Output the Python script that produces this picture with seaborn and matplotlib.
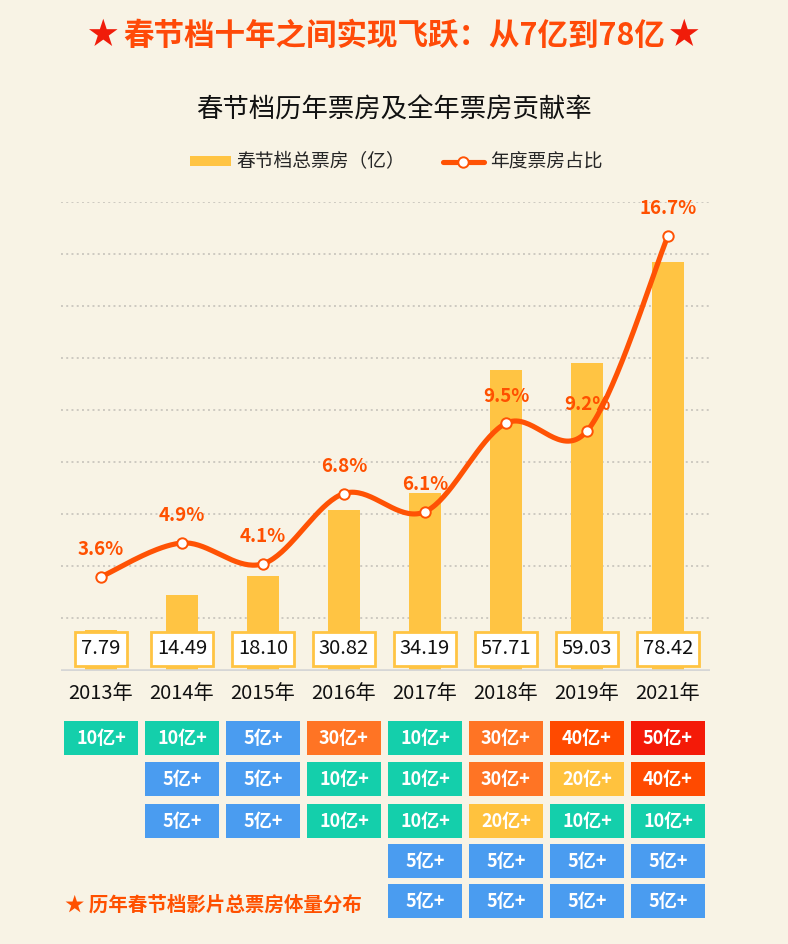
import numpy as np
import matplotlib
matplotlib.use("Agg")
import matplotlib.pyplot as plt
from matplotlib.patches import Patch
from matplotlib.lines import Line2D
import seaborn as sns

# ---- data ----
years = ["2013年", "2014年", "2015年", "2016年", "2017年", "2018年", "2019年", "2021年"]
box_office = [7.79, 14.49, 18.10, 30.82, 34.19, 57.71, 59.03, 78.42]
share_pct = [3.6, 4.9, 4.1, 6.8, 6.1, 9.5, 9.2, 16.7]
box_labels = ["7.79", "14.49", "18.10", "30.82", "34.19", "57.71", "59.03", "78.42"]

# films per year by box-office tier (亿)
tiers_2013 = [10]
tiers_2014 = [10, 5, 5]
tiers_2015 = [5, 5, 5]
tiers_2016 = [30, 10, 10]
tiers_2017 = [10, 10, 10, 5, 5]
tiers_2018 = [30, 30, 20, 5, 5]
tiers_2019 = [40, 20, 10, 5, 5]
tiers_2021 = [50, 40, 10, 5, 5]
tiers = [tiers_2013, tiers_2014, tiers_2015, tiers_2016,
         tiers_2017, tiers_2018, tiers_2019, tiers_2021]

# ---- style ----
BG = "#F8F3E5"
BAR = "#FFC443"
LINE = "#FF5204"
LABEL = "#FF5000"
tier_colors = {5: "#4A9CF0", 10: "#14CFAB", 20: "#FFC23E",
               30: "#FF7424", 40: "#FF4A00", 50: "#F41A08"}

sns.set_style("white")
plt.rcParams["font.family"] = ["Noto Sans CJK SC", "DejaVu Sans"]

W, H = 788, 944
fig = plt.figure(figsize=(W / 100, H / 100), dpi=100, facecolor=BG)

# main chart area (pixel layout)
x0, x1 = 60.7, 710.0
y_top, y_base = 202.0, 670.5
ax = fig.add_axes([x0 / W, 1 - y_base / H, (x1 - x0) / W, (y_base - y_top) / H])
ax.set_facecolor("none")

x = np.arange(len(years))
sns.barplot(x=years, y=box_office, ax=ax, color=BAR, width=0.4,
            saturation=1, linewidth=0, edgecolor="none", zorder=2)
ax.set_xlim(-0.4975, 7.519)
ax.set_ylim(0, 90)
ax.set_yticks(range(0, 91, 10))
ax.yaxis.grid(True, linestyle=(0, (1, 1.7)), color="#CDC9C1", linewidth=1.4,
              dash_capstyle="butt")
ax.set_axisbelow(True)
ax.tick_params(axis="y", left=False, right=False, labelleft=False, length=0)
ax.tick_params(axis="x", length=0, pad=9, labelsize=14.5, labelcolor="#111111")
ax.set_xlabel("")
ax.set_ylabel("")
for sp in ax.spines.values():
    sp.set_visible(False)
ax.axhline(0, color="#D6D6D6", linewidth=2.6, zorder=3)

for i, lab in enumerate(box_labels):
    ax.annotate(lab, xy=(x[i], 0), xytext=(0, 21.5), textcoords="offset pixels",
                ha="center", va="center", fontsize=14.5, color="#111111", zorder=5,
                bbox=dict(boxstyle="square,pad=0.3", fc="white", ec=BAR, lw=2))

# share line on secondary axis, drawn as a Catmull-Rom curve through the points
ax2 = ax.twinx()
ax2.set_ylim(0, 18)
ax2.set_axis_off()

pts_x = x.astype(float)
pts_y = np.asarray(share_pct, dtype=float)
px = np.concatenate([[pts_x[0]], pts_x, [pts_x[-1]]])
py = np.concatenate([[pts_y[0]], pts_y, [pts_y[-1]]])
t = np.linspace(0, 1, 40)
h00 = 2 * t**3 - 3 * t**2 + 1
h10 = t**3 - 2 * t**2 + t
h01 = -2 * t**3 + 3 * t**2
h11 = t**3 - t**2
cx, cy = [], []
for k in range(1, len(px) - 2):
    mx0 = (px[k + 1] - px[k - 1]) / 2
    mx1 = (px[k + 2] - px[k]) / 2
    my0 = (py[k + 1] - py[k - 1]) / 2
    my1 = (py[k + 2] - py[k]) / 2
    cx.append(h00 * px[k] + h10 * mx0 + h01 * px[k + 1] + h11 * mx1)
    cy.append(h00 * py[k] + h10 * my0 + h01 * py[k + 1] + h11 * my1)
cx = np.concatenate(cx)
cy = np.concatenate(cy)
ax2.plot(cx, cy, color=LINE, linewidth=3.7, solid_capstyle="round", zorder=3)
ax2.plot(pts_x, pts_y, linestyle="none", marker="o", markersize=7.5,
         markerfacecolor="white", markeredgecolor=LINE, markeredgewidth=1.4, zorder=4)
for xi, yi in zip(pts_x, pts_y):
    ax2.annotate(f"{yi:.1f}%", xy=(xi, yi), xytext=(0, 27), textcoords="offset pixels",
                 ha="center", va="center", fontsize=13.5, fontweight="bold", color=LABEL)

# tile grid of film tiers
row_tops = [721, 762, 804, 844, 884]
tile_h = 34
axt = fig.add_axes([x0 / W, 1 - 935 / H, (x1 - x0) / W, (935 - 705) / H])
axt.set_xlim(-0.4975, 7.519)
axt.set_ylim(935, 705)
axt.set_axis_off()
for i, col in enumerate(tiers):
    for r, tier in enumerate(col):
        axt.bar(x[i], tile_h, bottom=row_tops[r], width=74 / 81,
                color=tier_colors[tier], linewidth=0)
        axt.text(x[i], row_tops[r] + tile_h / 2, f"{tier}亿+", ha="center", va="center",
                 color="white", fontsize=13, fontweight="bold")

# titles, legend, note
fig.text(0.5, 1 - 36 / H, "春节档十年之间实现飞跃：从7亿到78亿", ha="center", va="center",
         fontsize=22, fontweight="bold", color="#FF4A08")
fig.text(103 / W, 1 - 36 / H, "★", ha="center", va="center", fontsize=22, color="#F01C0A")
fig.text(684 / W, 1 - 36 / H, "★", ha="center", va="center", fontsize=22, color="#F01C0A")
fig.text(0.5, 1 - 110 / H, "春节档历年票房及全年票房贡献率", ha="center", va="center",
         fontsize=19, color="#111111")

handles = [Patch(facecolor=BAR, edgecolor="none", label="春节档总票房（亿）"),
           Line2D([0], [0], color=LINE, linewidth=3.7, marker="o", markersize=7.5,
                  markerfacecolor="white", markeredgecolor=LINE, markeredgewidth=1.4,
                  label="年度票房占比")]
fig.legend(handles=handles, loc="center", bbox_to_anchor=(396 / W, 1 - 162 / H),
           ncol=2, frameon=False, fontsize=13.5, handlelength=2.2, handleheight=0.45,
           handletextpad=0.3, columnspacing=2.0)

fig.text(65 / W, 1 - 905 / H, "★ 历年春节档影片总票房体量分布", ha="left", va="center",
         fontsize=14, fontweight="bold", color="#FF5000")

fig.savefig("out.png", dpi=100, facecolor=BG)
